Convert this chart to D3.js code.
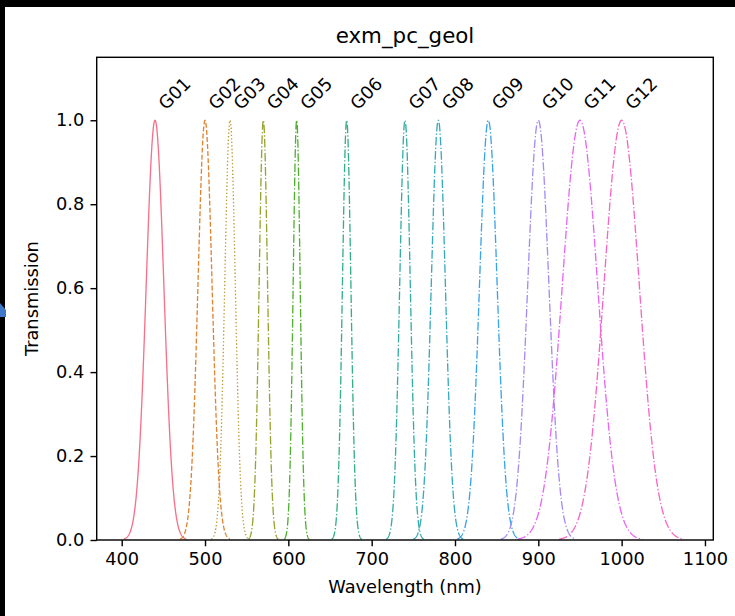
<!DOCTYPE html>
<html>
<head>
<meta charset="utf-8">
<script src="https://cdn.jsdelivr.net/npm/d3@7"></script>
<style>
  html, body { margin: 0; padding: 0; background: #fff; }
  svg { display: block; }
  text { font-family: "DejaVu Sans", sans-serif; fill: #000; }
</style>
</head>
<body>
<script>
// Geology filter set: band names, centre wavelengths and FWHM (nm)
const filterNames = ["G01","G02","G03","G04","G05","G06","G07","G08","G09","G10","G11","G12"];
const centers     = [440, 500, 530, 570, 610, 670, 740, 780, 840, 900, 950, 1000];
const fwhm        = [25, 20, 15, 12, 10, 12, 15, 20, 25, 30, 50, 50];
const colors      = ["#f77189","#e08432","#bb9832","#97a431","#50b131","#34af8a",
                     "#36ada4","#38aabd","#3ba3ec","#a48cf4","#e866f4","#f668c2"];
const lineStyles  = ["solid","dashed","dotted","dashdot","dashdot","dashdot",
                     "dashdot","dashdot","dashdot","dashdot","dashdot","dashdot"];
const xTicks = [400, 500, 600, 700, 800, 900, 1000, 1100];
const yTicks = [0.0, 0.2, 0.4, 0.6, 0.8, 1.0];

const W = 735, H = 616;
const pt = 1.78;                       // pixels per typographic point
const plot = { left: 96.7, right: 713.3, top: 57.3, bottom: 540 };
const lw = 0.75 * pt;
const dashPatterns = {
  solid: "none",
  dashed: [3.7, 1.6].map(v => v * lw).join(","),
  dotted: [1, 1.65].map(v => v * lw).join(","),
  dashdot: [6.4, 1.6, 1, 1.6].map(v => v * lw).join(",")
};

const svg = d3.select("body").append("svg").attr("width", W).attr("height", H);
svg.append("rect").attr("width", W).attr("height", H).attr("fill", "#fff");

// dark window edges around the figure
svg.append("rect").attr("x", 0).attr("y", 0).attr("width", W).attr("height", 7).attr("fill", "#000");
svg.append("rect").attr("x", 0).attr("y", 0).attr("width", 5).attr("height", H).attr("fill", "#000");
svg.append("path").attr("d", "M0,303 L6,310 L6,317 L0,317 Z").attr("fill", "#3f78c8");

const x = d3.scaleLinear().domain([370, 1110]).range([plot.left, plot.right]);
const y = d3.scaleLinear().domain([0, 1.15]).range([plot.bottom, plot.top]);

// Gaussian transmission profile of each band, sampled over centre ± 1.5 FWHM
const profiles = centers.map((c, i) => {
  const s = fwhm[i] / (2 * Math.sqrt(2 * Math.log(2)));
  const lo = c - 1.5 * fwhm[i], hi = c + 1.5 * fwhm[i];
  const pts = [];
  const n = 300;
  for (let k = 0; k <= n; k++) {
    const w = lo + (hi - lo) * k / n;
    pts.push([w, Math.exp(-((w - c) ** 2) / (2 * s * s))]);
  }
  return pts;
});

const line = d3.line().x(d => x(d[0])).y(d => y(d[1]));

const g = svg.append("g");
g.append("defs").append("clipPath").attr("id", "clip")
  .append("rect").attr("x", plot.left).attr("y", plot.top)
  .attr("width", plot.right - plot.left).attr("height", plot.bottom - plot.top);

g.append("g").attr("clip-path", "url(#clip)")
  .selectAll("path").data(profiles).join("path")
  .attr("d", line)
  .attr("fill", "none")
  .attr("stroke", (d, i) => colors[i])
  .attr("stroke-width", lw)
  .attr("stroke-dasharray", (d, i) => dashPatterns[lineStyles[i]]);

// band labels above each peak
g.selectAll("text.band").data(filterNames).join("text")
  .attr("class", "band")
  .attr("transform", (d, i) => `translate(${x(centers[i]) + 11},${y(1.02) - 1}) rotate(-45)`)
  .attr("font-size", 10 * pt)
  .text(d => d);

// axes
const tickLen = 3.5 * pt;
const xAxis = d3.axisBottom(x).tickValues(xTicks).tickFormat(d3.format("d")).tickSize(tickLen).tickPadding(3.5 * pt);
const yAxis = d3.axisLeft(y).tickValues(yTicks).tickFormat(d3.format(".1f")).tickSize(tickLen).tickPadding(3.5 * pt);

const gx = svg.append("g").attr("transform", `translate(0,${plot.bottom})`).call(xAxis);
const gy = svg.append("g").attr("transform", `translate(${plot.left},0)`).call(yAxis);
[gx, gy].forEach(a => {
  a.select(".domain").remove();
  a.selectAll(".tick line").attr("stroke", "#000").attr("stroke-width", 0.8 * pt);
  a.selectAll(".tick text").attr("font-size", 10 * pt).attr("font-family", "DejaVu Sans").attr("fill", "#000");
});

// frame
svg.append("rect")
  .attr("x", plot.left).attr("y", plot.top)
  .attr("width", plot.right - plot.left).attr("height", plot.bottom - plot.top)
  .attr("fill", "none").attr("stroke", "#000").attr("stroke-width", 0.8 * pt);

// titles
svg.append("text").attr("x", (plot.left + plot.right) / 2).attr("y", 43)
  .attr("text-anchor", "middle").attr("font-size", 12 * pt).text("exm_pc_geol");
svg.append("text").attr("x", (plot.left + plot.right) / 2).attr("y", 593)
  .attr("text-anchor", "middle").attr("font-size", 10 * pt).text("Wavelength (nm)");
svg.append("text")
  .attr("transform", `translate(38,${(plot.top + plot.bottom) / 2}) rotate(-90)`)
  .attr("text-anchor", "middle").attr("font-size", 10 * pt).text("Transmission");
</script>
</body>
</html>
